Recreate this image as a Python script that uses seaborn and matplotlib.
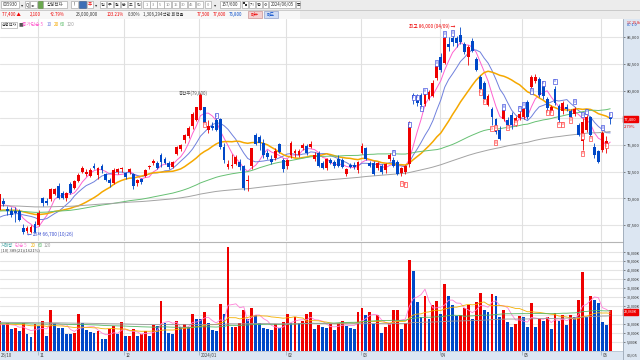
import numpy as np
import pandas as pd
import matplotlib
matplotlib.use("Agg")
import matplotlib.pyplot as plt
import matplotlib.patches as mpatches
import seaborn as sns

W, H = 640, 360

# ---------------------------------------------------------------- data
holidays = ["2023-12-25", "2023-12-29", "2024-01-01", "2024-02-09", "2024-02-12",
            "2024-03-01", "2024-04-10", "2024-05-01", "2024-05-06", "2024-05-15"]
dates = pd.bdate_range("2023-10-18", "2024-06-05", freq="C", holidays=holidays)

open_ = [68900, 69800, 69000, 68800, 68800, 68800, 67200, 67000, 66900, 67600,
         67500, 70000, 69800, 69900, 70400, 71200, 70500, 70000, 71300, 71000,
         71600, 72500, 72300, 72100, 73000, 72200, 73000, 72300, 71700, 71400,
         72500, 72700, 72400, 72500, 72300, 71400, 71800, 72100, 72900, 73300,
         73300, 74000, 73700, 73300, 72900, 74100, 74600, 75400, 75800, 76700,
         77300, 78200, 78500, 76400, 76700, 77300, 77400, 74800, 72900, 73000,
         73200, 73400, 73000, 71600, 73000, 75900, 75700, 75200, 74200, 73700,
         73800, 75100, 73600, 73000, 74000, 74200, 74000, 74700, 74900, 74800,
         73700, 74200, 73300, 72800, 73600, 73400, 73700, 73600, 72300, 73100,
         73100, 72600, 74200, 74700, 73300, 73300, 72800, 73000, 72600, 73700,
         73600, 73400, 72400, 72500, 73200, 79600, 79500, 79600, 78800, 79300,
         79500, 81200, 83200, 82600, 84400, 84900, 84900, 85200, 84400, 83200,
         84700, 83000, 81300, 80700, 78700, 78300, 77400, 76400, 77400, 77300,
         77800, 77000, 77500, 77600, 79000, 80400, 80900, 81100, 80500, 79300,
         78100, 80200, 78600, 78100, 78500, 78100, 77900, 76800, 75300, 76400,
         77600, 74800, 74400, 74500, 75100, 77600]
high = [70500, 70000, 69300, 69200, 69200, 69000, 67600, 67400, 67500, 67900,
        68900, 70100, 70000, 71000, 71000, 71400, 70700, 70600, 71500, 71700,
        72400, 73000, 72700, 72800, 73300, 72900, 73200, 72400, 71900, 72800,
        72800, 72900, 72500, 72800, 72400, 71800, 71900, 72700, 73100, 73700,
        73500, 74200, 73900, 73500, 73500, 74900, 75100, 76000, 76700, 78000,
        78500, 79800, 78500, 77300, 77100, 77500, 77500, 75200, 73600, 74100,
        74000, 73700, 73100, 72200, 74700, 76100, 75900, 75500, 74500, 74000,
        74700, 75200, 73800, 73700, 75300, 74600, 74600, 75200, 75100, 75300,
        74300, 74400, 73500, 73800, 73800, 73600, 74000, 73800, 72800, 73300,
        73400, 73500, 75200, 74800, 73500, 73500, 73400, 73200, 73300, 74200,
        73900, 73600, 72900, 73100, 77200, 79800, 79700, 79800, 80000, 80100,
        81000, 82500, 83500, 85000, 85000, 85300, 85100, 86000, 84600, 84300,
        84900, 83200, 81500, 80900, 79700, 78500, 77500, 76700, 78300, 77600,
        78000, 77700, 78200, 78500, 79200, 81500, 81600, 81300, 80700, 79400,
        78700, 80500, 78800, 79100, 78800, 78300, 78500, 77000, 77500, 77800,
        77700, 75200, 74500, 76300, 75800, 77900]
low = [68800, 69300, 68500, 68300, 67800, 67900, 66700, 66800, 66800, 66800,
       67400, 69300, 69400, 69800, 70300, 69900, 69900, 69800, 70400, 70900,
       71500, 72400, 72100, 72000, 72700, 71800, 72400, 71600, 71100, 71300,
       72300, 72500, 71800, 72300, 70900, 71200, 71300, 72000, 72700, 73100,
       72700, 72900, 73200, 72700, 72800, 74000, 74400, 75200, 75600, 76500,
       77200, 78200, 76700, 76100, 76400, 76300, 74600, 73300, 72700, 72800,
       73100, 72600, 70800, 70700, 72700, 75000, 74500, 73800, 73700, 73200,
       73600, 74200, 72500, 72700, 73800, 73900, 73900, 74500, 74000, 74700,
       73500, 72900, 72700, 72600, 73200, 72800, 72900, 72800, 72100, 72800,
       72700, 72400, 74100, 73600, 72900, 72200, 72600, 72300, 72400, 73500,
       72900, 72200, 72100, 72300, 72900, 78800, 78600, 78500, 78600, 79200,
       79400, 81000, 81800, 82500, 83700, 84200, 84100, 84400, 83400, 82400,
       83600, 81900, 80000, 79100, 78600, 76800, 76000, 75400, 77200, 76600,
       76500, 76700, 77300, 77400, 77400, 80200, 80700, 79400, 79300, 78200,
       77900, 78700, 77100, 77900, 78100, 77400, 77700, 75800, 74500, 76200,
       75600, 73800, 73300, 74300, 74200, 76900]
close = [70400, 69500, 68800, 68500, 68600, 68000, 66900, 67200, 67300, 66900,
         68600, 69600, 69600, 70900, 70900, 70000, 70000, 70500, 70500, 71600,
         72200, 72800, 72500, 72600, 72800, 72800, 72600, 71700, 71400, 72600,
         72700, 72800, 72000, 72700, 71200, 71700, 71500, 72600, 73000, 73500,
         72800, 73400, 73300, 72900, 73400, 74800, 75000, 75900, 76600, 77900,
         78500, 79600, 77000, 76700, 76600, 76400, 74800, 73600, 73200, 73100,
         73900, 72900, 71000, 71700, 74700, 75100, 75200, 74000, 73900, 73400,
         74400, 74300, 72700, 73600, 75200, 74400, 74400, 75000, 74200, 75100,
         74000, 73000, 72800, 73700, 73300, 73000, 73000, 72900, 72700, 72900,
         72900, 73400, 74900, 73700, 73000, 72300, 73300, 72500, 73200, 74000,
         73000, 72300, 72800, 73000, 76900, 79300, 78900, 78700, 79900, 79900,
         80700, 82300, 82000, 84900, 84100, 84600, 84500, 84600, 83600, 84100,
         83700, 82000, 80200, 79300, 79500, 77600, 76200, 75500, 78200, 76800,
         76800, 77500, 77900, 78300, 77600, 81300, 81300, 79600, 79500, 78400,
         78500, 78900, 77300, 78900, 78300, 77600, 78300, 75900, 77100, 77600,
         75900, 74000, 73400, 76100, 75300, 77400]
volume_k = [16700, 14800, 15400, 12000, 13000, 11100, 15700, 9300, 8000, 14800,
            13900, 16700, 8300, 22600, 15400, 13000, 12800, 9600, 9400, 9800,
            20400, 15400, 11500, 10600, 9800, 11300, 6900, 6700, 12000, 13900,
            9600, 16100, 8100, 8300, 12400, 8300, 9300, 11100, 8300, 14300,
            13900, 28100, 15700, 10200, 9300, 17000, 13500, 14800, 13500, 20900,
            18100, 17600, 21900, 15700, 11500, 11300, 26300, 20400, 58000, 13300,
            13500, 15400, 23100, 18100, 23900, 19800, 15400, 13000, 12000, 11500,
            14800, 12600, 16100, 20400, 15400, 19100, 15400, 16700, 20900, 21900,
            12400, 14300, 13500, 13000, 14800, 11700, 15700, 16500, 13900, 13000,
            12000, 21700, 23700, 20000, 21900, 14800, 19800, 9800, 13300, 15400,
            22600, 23100, 12000, 15700, 50600, 44800, 27200, 18900, 30900, 17600,
            25400, 27600, 20400, 37400, 30900, 25600, 19400, 19800, 24100, 25700,
            17600, 27200, 32400, 23100, 21700, 31900, 30900, 18900, 22600, 16100,
            13300, 15200, 19400, 19200, 13500, 26500, 13500, 17600, 17000, 19100,
            12000, 21300, 16500, 20000, 14300, 19800, 18900, 28300, 44100, 18900,
            30600, 28700, 26500, 16100, 14300, 23060]

ma_windows = [5, 10, 20, 60, 120]
ma_colors = ["#ff62d0", "#6f80dd", "#f5a800", "#66c073", "#a3a3a3"]
ma_lead = [69000, 68000, 68800, 68800, 69300]      # level where each average enters at the left edge

vma_windows = [5, 20, 60, 120]
vma_colors = ["#ff80d8", "#f5b000", "#55b865", "#9a9a9a"]
vma_lead = [14000, 15000, 15500, 16000]

# boxed signal marks on the candles: bar index, price level, label, side (u = blue, d = red)
mark_idx = [52, 55, 100, 102, 103, 104, 105, 106, 107, 108, 111, 113, 115,
            122, 123, 125, 126, 126, 128, 129, 131, 132, 133, 135, 138, 139, 140,
            141, 142, 143, 145, 146, 148, 148, 148, 149, 150, 153, 154, 155]
mark_price = [76900, 77700, 74300, 71400, 71300, 76900, 79400, 79400, 78400, 80000,
              82600, 85300, 85400, 79900, 79000, 76500, 76600, 75200, 78500, 76600,
              77100, 78400, 78700, 80000, 80700, 78000, 78000, 80900, 76900, 76900,
              77300, 79000, 77800, 75800, 74200, 78100, 75600, 76600, 74900, 77800]
mark_label = ["5", "5", "8", "1", "0", "0", "0", "0", "0", "8", "0", "0", "0",
              "8", "9", "9", "0", "8", "8", "0", "0", "0", "0", "0", "0", "8", "8",
              "0", "0", "0", "0", "0", "0", "0", "0", "0", "0", "0", "8", "0"]
mark_side = ["d", "u", "u", "d", "d", "u", "u", "u", "u", "u", "u", "u", "u",
             "d", "d", "d", "d", "d", "u", "d", "d", "u", "u", "u", "u", "d", "d",
             "u", "d", "d", "d", "u", "u", "d", "d", "u", "d", "u", "d", "u"]

price_ticks = [67500, 70000, 72500, 75000, 80000, 82500, 85000]   # 77,500 sits under the price tag
vol_ticks = [5000, 10000, 15000, 25000, 30000, 35000, 40000, 45000, 50000, 55000]
vol_grid = [5000, 10000, 15000, 20000, 25000, 30000, 35000, 40000, 45000, 50000, 55000]

RED, BLUE = "#ee0000", "#0048c8"
SIDE_BG = "#dce6f2"


def moving(values, window, lead):
    s = pd.Series([lead] * (window - 1) + list(values), dtype=float)
    return s.rolling(window).mean().iloc[window - 1:].to_numpy()


def rect(x0, y0, x1, y1):
    return [x0 / W, 1 - y1 / H, (x1 - x0) / W, (y1 - y0) / H]


df = pd.DataFrame({"date": dates, "open": open_, "high": high, "low": low,
                   "close": close, "vol": volume_k})
df["x"] = np.arange(len(df))
up = df["close"] >= df["open"]
candle_col = np.where(up, RED, BLUE)
vol_up = np.r_[True, np.diff(df["vol"]) > 0]
vol_col = np.where(vol_up, RED, BLUE)

# first trading day of each month -> grid positions
month_first = df.groupby(df["date"].dt.to_period("M"))["x"].min().iloc[1:].to_numpy() - 0.3
month_labels = ["11", "12", "2024/01", "02", "03", "04", "05", "06"]

# ---------------------------------------------------------------- figure
sns.set_style("white")
plt.rcParams["font.family"] = ["Noto Sans CJK KR", "DejaVu Sans"]
fig = plt.figure(figsize=(W / 100, H / 100), dpi=100)
fig.patch.set_facecolor("white")

ax_side = fig.add_axes(rect(623, 19, 640, 360))
ax_side.set_facecolor(SIDE_BG)
ax_side.set_xticks([]); ax_side.set_yticks([])
for s in ax_side.spines.values():
    s.set_visible(False)

ax_p = fig.add_axes(rect(0, 19, 623, 241))
ax_v = fig.add_axes(rect(0, 242, 623, 351))
ax_d = fig.add_axes(rect(0, 351, 623, 360))
ax_h = fig.add_axes(rect(0, 0, 640, 19))

xlim = (0.13, 158.25)

# ---- price panel
ax = ax_p
for y in price_ticks + [77500]:
    ax.axhline(y, color="#e4e4e4", lw=0.8, zorder=0)
for m in month_first:
    ax.axvline(m, color="#e0e0e0", lw=0.8, zorder=0)

for w, c, lead in zip(ma_windows, ma_colors, ma_lead):
    sns.lineplot(x=df["x"], y=moving(df["close"], w, lead), ax=ax, color=c,
                 lw=1.1 if w == 20 else 0.7, zorder=2)

ax.vlines(df["x"], df["low"], df["high"], colors=candle_col, lw=0.6, zorder=3)
body = np.maximum((df["close"] - df["open"]).abs(), 70)
ax.bar(df["x"], body, bottom=np.minimum(df["open"], df["close"]), width=0.72,
       color=candle_col, linewidth=0, zorder=4)

for i, p, lab, side in zip(mark_idx, mark_price, mark_label, mark_side):
    c = "#3344dd" if side == "u" else "#ff3030"
    ax.text(i, p, lab, fontsize=2.5, color=c, ha="center", va="center", zorder=6,
            bbox=dict(boxstyle="square,pad=0.18", fc="white", ec=c, lw=0.45))

ax.set_xlim(*xlim)
ax.set_ylim(66034, 86704)
ax.set_xticks([])
ax.yaxis.tick_right()
ax.set_yticks(price_ticks)
ax.set_yticklabels([f"{t:,}" for t in price_ticks])
ax.tick_params(axis="y", length=1.5, width=0.5, pad=1, labelsize=3.0,
               colors="#555555", labelcolor="#333333")
ax.set_xlabel(""); ax.set_ylabel("")
for s in ax.spines.values():
    s.set_visible(False)

i_hi = int(df["high"].idxmax())
i_lo = int(df["low"].idxmin())
ax.text(i_hi - 1.2, df["high"][i_hi], "최고 86,000 (04/09) →", color=RED,
        fontsize=3.4, ha="right", va="center")
ax.text(i_lo + 1.0, df["low"][i_lo], "← 최저 66,700 (10/26)", color="#3a4fd0",
        fontsize=3.4, ha="left", va="center")
ax.text(45.5, 79800, "종합주(79,800)", color="#555555", fontsize=3.2,
        ha="left", va="center")

# legend row
ly = 86150
ax.text(0.5, ly, "삼성전자", fontsize=2.9, color="#333333", va="center",
        bbox=dict(boxstyle="square,pad=0.15", fc="white", ec="#999999", lw=0.4))
legend_parts = [("■", "#555555", 4.9), ("종가단순 5", ma_colors[0], 5.8),
                ("10", ma_colors[1], 12.0), ("20", ma_colors[2], 13.7),
                ("60", ma_colors[3], 15.3), ("120", ma_colors[4], 17.0)]
for t, c, xx in legend_parts:
    ax.text(xx, ly, t, fontsize=3.4, color=c, va="center")

# current price tag
ax.text(158.55, 77400, "77,400", fontsize=2.9, color="white", va="center", ha="left",
        clip_on=False, bbox=dict(boxstyle="square,pad=0.25", fc=RED, ec=RED))
ax.text(158.55, 76650, "2.79%", fontsize=2.9, color=RED, va="center", ha="left", clip_on=False)

# ---- volume panel
ax = ax_v
for y in vol_grid:
    ax.axhline(y, color="#e4e4e4", lw=0.8, zorder=0)
for m in month_first:
    ax.axvline(m, color="#e0e0e0", lw=0.8, zorder=0)
ax.bar(df["x"], df["vol"], width=0.72, color=vol_col, linewidth=0, zorder=2)
for w, c, lead in zip(vma_windows, vma_colors, vma_lead):
    sns.lineplot(x=df["x"], y=moving(df["vol"], w, lead), ax=ax, color=c, lw=0.6, zorder=3)
ax.set_xlim(*xlim)
ax.set_ylim(0, 60760)
ax.set_xticks([])
ax.yaxis.tick_right()
ax.set_yticks(vol_ticks)
ax.set_yticklabels([f"{t:,}K" for t in vol_ticks])
ax.tick_params(axis="y", length=1.5, width=0.5, pad=1, labelsize=2.6,
               colors="#555555", labelcolor="#333333")
ax.set_xlabel(""); ax.set_ylabel("")
for s in ax.spines.values():
    s.set_visible(False)
ax.text(158.55, 21900, "23,060K", fontsize=2.6, color="white", va="center", ha="left",
        clip_on=False, bbox=dict(boxstyle="square,pad=0.25", fc=RED, ec=RED))
vleg = [("거래량", "#3aa0a0", 0.3), ("단순 5", vma_colors[0], 3.9), ("20", vma_colors[1], 8.0),
        ("60", vma_colors[2], 9.6), ("120", vma_colors[3], 11.3)]
for t, c, xx in vleg:
    ax.text(xx, 59000, t, fontsize=3.2, color=c, va="center")
ax.text(0.3, 56000, "[10] 389(21)(1621%)", fontsize=3.0, color="#444444", va="center")

# ---- date strip
ax = ax_d
ax.set_facecolor(SIDE_BG)
ax.set_xlim(*xlim)
ax.set_ylim(0, 1)
ax.set_xticks([]); ax.set_yticks([])
for s in ax.spines.values():
    s.set_visible(False)
ax.axhline(1, color="#b8c4d2", lw=0.6)
ax.text(0.3, 0.45, "23/10", fontsize=3.1, color="#444444", va="center")
for m, lab in zip(month_first, month_labels):
    ax.vlines(m, 0.55, 1, color="#8899aa", lw=0.4)
    ax.text(m + 0.4, 0.45, lab, fontsize=3.1, color="#444444", va="center")
fig.text(627 / W, 1 - 355.5 / H, "06/05", fontsize=3.0, color="#444444", va="center")

# panel separators
fig.add_artist(plt.Line2D([0, 623 / W], [1 - 241.5 / H] * 2, color="#b5b5b5", lw=0.8))
fig.add_artist(plt.Line2D([623 / W] * 2, [0, 1 - 19 / H], color="#9aa6b4", lw=0.6))

# ---- header (two toolbar rows)
ax = ax_h
ax.set_xlim(0, W); ax.set_ylim(19, 0)
ax.set_facecolor("#ececec")
ax.set_xticks([]); ax.set_yticks([])
for s in ax.spines.values():
    s.set_visible(False)
ax.axhline(9.5, color="#c4c4c4", lw=0.6)
ax.axhline(18.8, color="#b0b0b0", lw=0.6)
ax.add_patch(mpatches.Rectangle((0, 9.6), 300, 9, fc="#f7f7f7", ec="none"))


def tbox(x0, x1, label, fc="white", ec="#9a9a9a", tc="#333333", fs=3.2):
    ax.add_patch(mpatches.Rectangle((x0, 1.2), x1 - x0, 7, fc=fc, ec=ec, lw=0.4))
    ax.text((x0 + x1) / 2, 4.8, label, fontsize=fs, color=tc, ha="center", va="center")


tbox(1, 19, "005930")
tbox(20, 24, "▾", fc="#ececec", ec="none")
tbox(25, 29, "Q")
tbox(30, 37, "◂▸")
tbox(38, 43, "", fc="#6aa84f", ec="#4a7a30")
tbox(43, 67, "삼성전자")
tbox(71, 78, "!")
tbox(79, 86, "", fc="#3d6fb6", ec="#2a4f80")
tbox(87, 93, "주", tc=RED)
tbox(94, 98, "▾", fc="#ececec", ec="none")
for x0, lab in zip([100, 107, 114, 121, 128, 135], ["일", "주", "월", "분", "초", "틱"]):
    tbox(x0, x0 + 6, lab, fs=2.9)
for x0, lab in zip([143, 150, 157, 164, 172, 180, 188, 196],
                   ["1", "3", "5", "10", "15", "30", "45", "60"]):
    tbox(x0, x0 + 7, lab, tc="#888888", fs=2.9)
tbox(205, 211, "0", tc="#888888", fs=2.9)
tbox(213, 217, "▾", fc="#ececec", ec="none")
tbox(220, 240, "157/600")
tbox(242, 248, "▚", fs=2.9)
tbox(249, 255, "기", fs=2.9)
tbox(256, 262, "업", fs=2.9)
tbox(263, 268, "⚙", fs=2.9)
tbox(269, 295, "2024/06/05")
tbox(296, 300, "▦", fs=2.6)

row2 = [(2, "77,400 ▲", RED), (30, "2,100", RED), (50, "+2.79%", RED),
        (76, "23,000,000", "#333333"), (107, "103.21%", RED), (128, "0.30%", "#333333"),
        (143, "1,306,294백만 회전율", "#333333"), (197, "77,500", RED),
        (213, "77,600", RED), (229, "76,800", BLUE)]
for x0, t, c in row2:
    ax.text(x0, 14.3, t, fontsize=3.1, color=c, va="center")
ax.add_patch(mpatches.Rectangle((248, 10.8), 14, 7, fc="#f4d0d0", ec="#c08080", lw=0.4))
ax.text(255, 14.3, "매수", fontsize=3.1, color=RED, ha="center", va="center")
ax.add_patch(mpatches.Rectangle((264, 10.8), 14, 7, fc="#d0dcf4", ec="#8090c0", lw=0.4))
ax.text(271, 14.3, "매도", fontsize=3.1, color=BLUE, ha="center", va="center")

fig.text(627 / W, 1 - 22 / H, "1C 15,84", fontsize=2.6, color=RED, va="center")
fig.text(627 / W, 1 - 25.5 / H, "#C-1.0", fontsize=2.6, color=BLUE, va="center")

fig.savefig("out.png", dpi=100)
